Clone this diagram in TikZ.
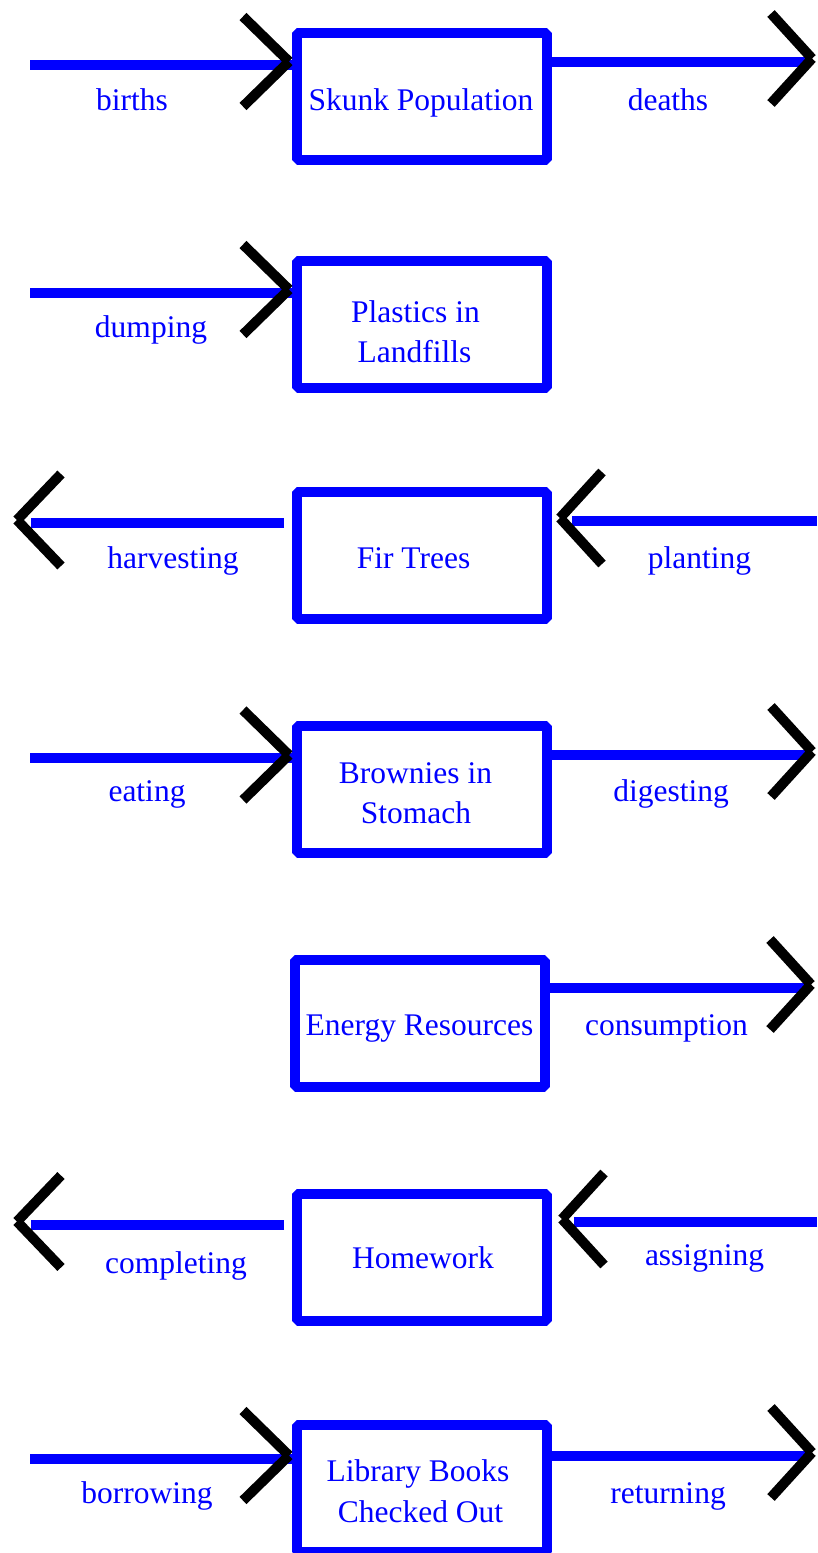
\documentclass[tikz,border=0pt]{standalone}
\usepackage{fontspec}
\setmainfont{Liberation Serif}
\newcommand\chv[3]{\draw[chev] #1 -- ++(#2,#3) #1 -- ++(#2,-#3);}
\begin{document}
\begin{tikzpicture}[x=1pt,y=-1pt,
  stockbox/.style={draw=blue, line width=10pt, line join=bevel, minimum width=250pt, minimum height=127pt, inner sep=0pt},
  flow/.style={draw=blue, line width=10pt},
  chev/.style={draw=black, line width=10pt, line cap=butt},
  txt/.style={text=blue, font=\fontsize{31.5}{40}\selectfont, inner sep=0pt, anchor=base}]
\useasboundingbox (0,0) rectangle (817,1553);
% ---------- row 1
\node[stockbox] (s1) at (422,96) {};
\coordinate (births) at (30,64.5);
\coordinate (deaths) at (806,61.5);
\draw[flow] (births) -- (s1.west |- births);
\chv{([shift={(-3,-3)}]s1.west |- births)}{-46}{45}
\draw[flow] (s1.east |- deaths) -- (deaths);
\chv{([shift={(6,-3)}]deaths)}{-41}{45}
\node[txt] (t1) at (421,110) {Skunk Population};
\node[txt] (l1a) at (132,110) {births};
\node[txt] (l1b) at (668,110) {deaths};
% ---------- row 2
\node[stockbox] (s2) at (422,324.5) {};
\coordinate (dumping) at (30,292.5);
\draw[flow] (dumping) -- (s2.west |- dumping);
\chv{([shift={(-3,-3)}]s2.west |- dumping)}{-46}{45}
\node[txt] (t2a) at (415.5,322) {Plastics in};
\node[txt] (t2b) at (414.5,362) {Landfills};
\node[txt] (l2a) at (151,337) {dumping};
% ---------- row 3
\node[stockbox] (s3) at (422,555.5) {};
\coordinate (harvest) at (31,523);
\coordinate (plant) at (817,521);
\draw[flow] ([xshift=-8pt]s3.west |- harvest) -- (harvest);
\chv{([shift={(-14,-3)}]harvest)}{44}{46}
\draw[flow] (plant) -- ([xshift=20pt]s3.east |- plant);
\chv{([shift={(8,-3)}]s3.east |- plant)}{42}{46}
\node[txt] (t3) at (413.5,568) {Fir Trees};
\node[txt] (l3a) at (173,568) {harvesting};
\node[txt] (l3b) at (699.5,568) {planting};
% ---------- row 4
\node[stockbox] (s4) at (422,789.5) {};
\coordinate (eating) at (30,758);
\coordinate (digest) at (806,754.5);
\draw[flow] (eating) -- (s4.west |- eating);
\chv{([shift={(-3,-3)}]s4.west |- eating)}{-46}{45}
\draw[flow] (s4.east |- digest) -- (digest);
\chv{([shift={(6,-3)}]digest)}{-41}{45}
\node[txt] (t4a) at (415.5,783) {Brownies in};
\node[txt] (t4b) at (416,823) {Stomach};
\node[txt] (l4a) at (147,801.5) {eating};
\node[txt] (l4b) at (671,801.5) {digesting};
% ---------- row 5
\node[stockbox] (s5) at (419.5,1023) {};
\coordinate (consume) at (805,987.5);
\draw[flow] (s5.east |- consume) -- (consume);
\chv{([shift={(6,-3)}]consume)}{-41}{45}
\node[txt] (t5) at (419.5,1035.5) {Energy Resources};
\node[txt] (l5b) at (666.5,1035.5) {consumption};
% ---------- row 6
\node[stockbox] (s6) at (422,1257) {};
\coordinate (complete) at (31,1224.5);
\coordinate (assign) at (817,1222);
\draw[flow] ([xshift=-8pt]s6.west |- complete) -- (complete);
\chv{([shift={(-14,-3)}]complete)}{44}{46}
\draw[flow] (assign) -- ([xshift=22pt]s6.east |- assign);
\chv{([shift={(10,-3)}]s6.east |- assign)}{42}{46}
\node[txt] (t6) at (423,1268) {Homework};
\node[txt] (l6a) at (176,1273) {completing};
\node[txt] (l6b) at (704.5,1265) {assigning};
% ---------- row 7
\node[stockbox] (s7) at (422,1488.5) {};
\coordinate (borrow) at (30,1458.5);
\coordinate (return) at (806,1455.5);
\draw[flow] (borrow) -- (s7.west |- borrow);
\chv{([shift={(-3,-3)}]s7.west |- borrow)}{-46}{45}
\draw[flow] (s7.east |- return) -- (return);
\chv{([shift={(6,-3)}]return)}{-41}{45}
\node[txt] (t7a) at (418,1481.5) {Library Books};
\node[txt] (t7b) at (420.5,1522.5) {Checked Out};
\node[txt] (l7a) at (147,1503) {borrowing};
\node[txt] (l7b) at (668,1503) {returning};
\end{tikzpicture}
\end{document}
